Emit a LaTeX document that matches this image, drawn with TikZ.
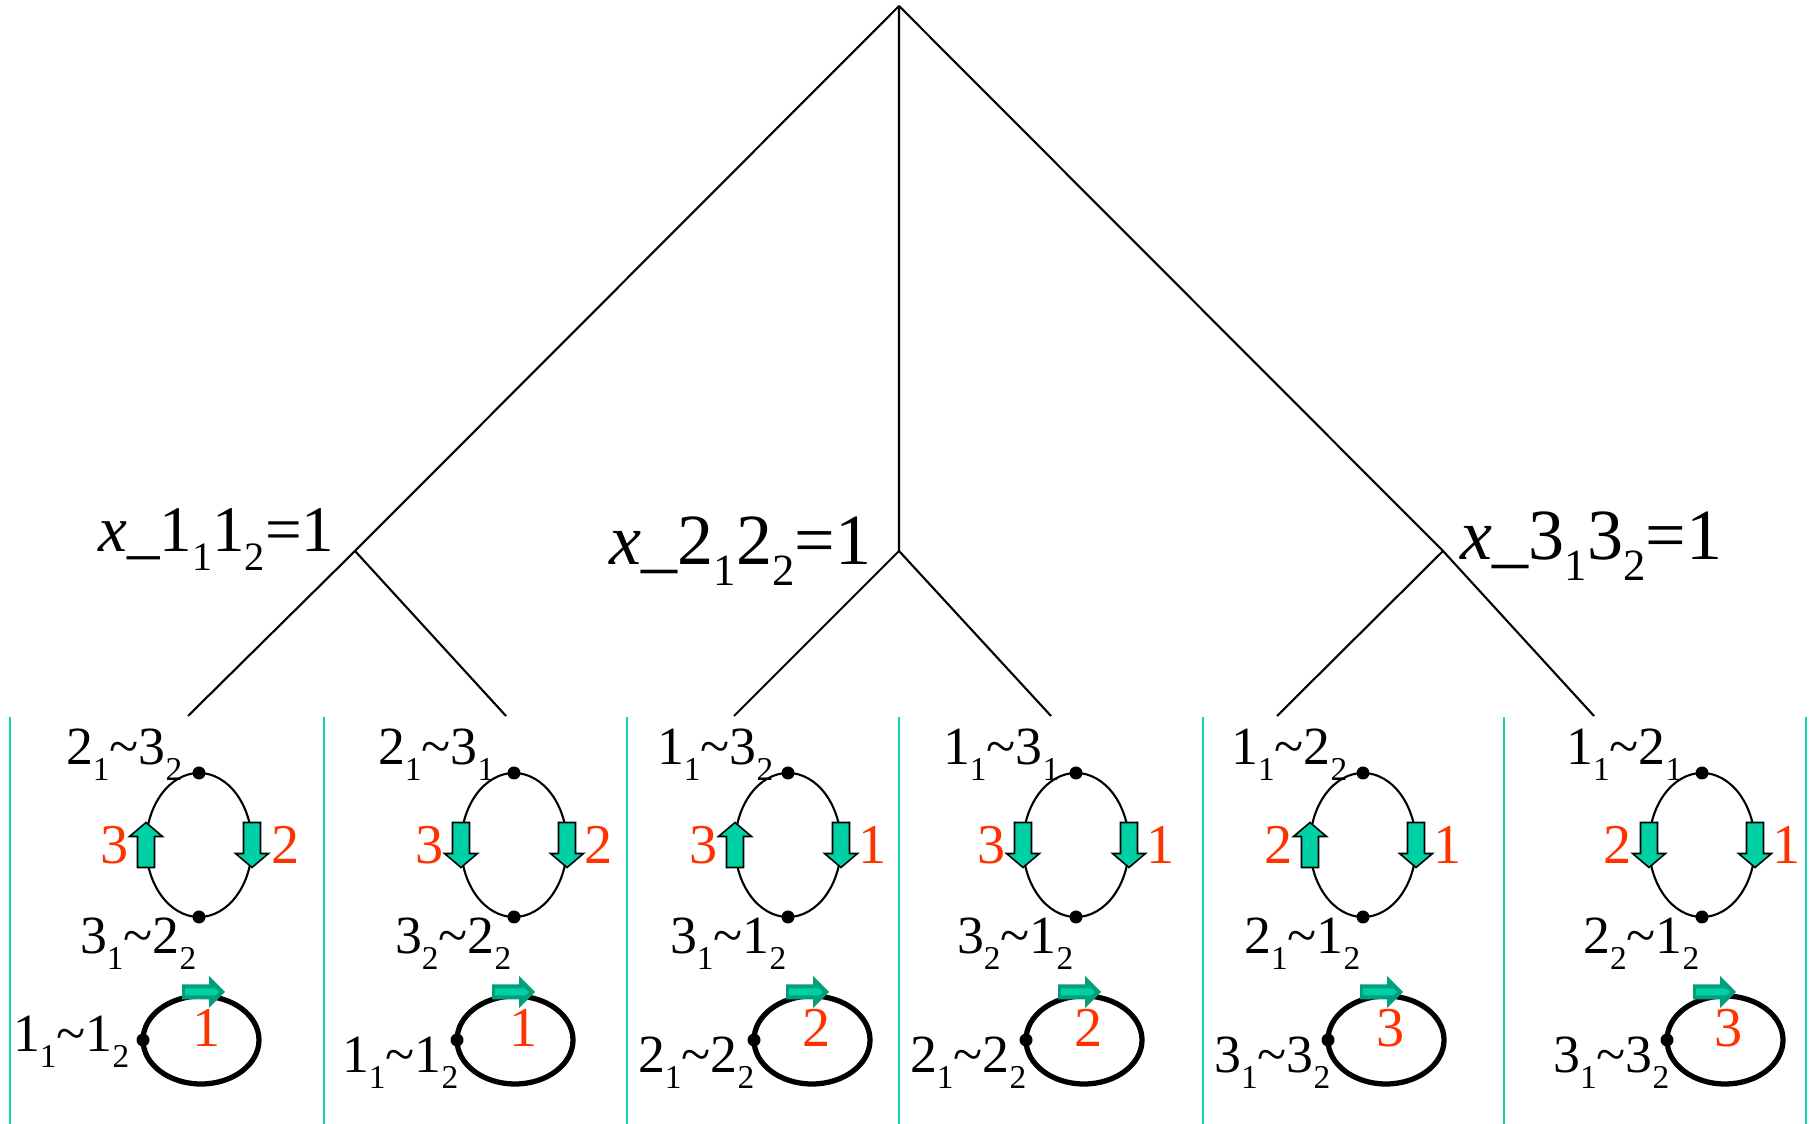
\documentclass[tikz,border=0pt]{standalone}
\usepackage{fontspec}
\setmainfont{Liberation Serif}
\usepackage{graphicx}
\definecolor{numred}{RGB}{255,51,0}
\definecolor{divteal}{RGB}{20,210,170}
\definecolor{arrfill}{RGB}{0,208,165}
\definecolor{arrdark}{RGB}{0,160,125}
\newcommand{\ix}[1]{\raisebox{-0.28em}{\scalebox{0.62}{#1}}}
\newcommand{\tl}{\textasciitilde}
\newcommand{\labfont}{\fontsize{15.3}{17}\selectfont}
\newcommand{\numfont}{\fontsize{16}{18}\selectfont}
\newcommand{\bigfont}{\fontsize{20.5}{23}\selectfont}
\tikzset{
  lab/.style={inner sep=0pt,font=\labfont},
  num/.style={inner sep=0pt,font=\numfont,text=numred},
  big/.style={inner sep=0pt,font=\bigfont},
  branch/.style={line width=0.6pt},
  divider/.style={divteal,line width=0.7pt},
  ring/.style={line width=0.6pt},
  thickring/.style={line width=1.5pt},
  arrbox/.style={draw=black,line width=0.45pt,fill=arrfill},
  downarr/.pic={\draw[arrbox] (-0.085,0.225) -- (0.085,0.225) -- (0.085,-0.085) -- (0.165,-0.085) -- (0,-0.225) -- (-0.165,-0.085) -- (-0.085,-0.085) -- cycle;},
  uparr/.pic={\draw[arrbox] (-0.085,-0.225) -- (0.085,-0.225) -- (0.085,0.085) -- (0.165,0.085) -- (0,0.225) -- (-0.165,0.085) -- (-0.085,0.085) -- cycle;},
  rarr/.pic={\fill[arrdark] (0,0.075) -- (0.27,0.075) -- (0.27,0.16) -- (0.43,0) -- (0.27,-0.16) -- (0.27,-0.075) -- (0,-0.075) -- cycle;
    \fill[arrfill] (0.03,0.035) -- (0.33,0.035) -- (0.37,0) -- (0.33,-0.035) -- (0.03,-0.035) -- cycle;}
}
\begin{document}
\begin{tikzpicture}
        \useasboundingbox (0,0) rectangle (18.14,11.24);
        % tree
        \coordinate (root) at (8.99,11.18);
        \coordinate (n1) at (3.55,5.73);
        \coordinate (n2) at (8.99,5.73);
        \coordinate (n3) at (14.43,5.73);
        \coordinate (l1) at (1.88,4.08);
        \coordinate (l2) at (5.06,4.08);
        \coordinate (l3) at (7.34,4.08);
        \coordinate (l4) at (10.51,4.08);
        \coordinate (l5) at (12.77,4.08);
        \coordinate (l6) at (15.94,4.08);
        \draw[branch] (root) -- (n1) -- (l1);
        \draw[branch] (n1) -- (l2);
        \draw[branch] (root) -- (n2) -- (l3);
        \draw[branch] (n2) -- (l4);
        \draw[branch] (root) -- (n3) -- (l6);
        \draw[branch] (n3) -- (l5);
        \node[big,font=\fontsize{18.5}{21}\selectfont,anchor=base east] (x1) at (3.35,5.72) {\textit{x}\_1\ix{1}1\ix{2}=1};
        \node[big,anchor=base east] (x2) at (8.72,5.59) {\textit{x}\_2\ix{1}2\ix{2}=1};
        \node[big,anchor=base west] (x3) at (14.60,5.64) {\textit{x}\_3\ix{1}3\ix{2}=1};

        \draw[divider] (0.10,0) -- (0.10,4.07) (3.24,0) -- (3.24,4.07) (6.27,0) -- (6.27,4.07)
                (8.99,0) -- (8.99,4.07) (12.03,0) -- (12.03,4.07) (15.04,0) -- (15.04,4.07) (18.06,0) -- (18.06,4.07);

        % panel 1
        \begin{scope}[shift={(1.99,0)}]
                \draw[ring] (0,2.79) ellipse (0.53 and 0.72);
                \fill (0,3.51) circle (0.065) (0,2.07) circle (0.065);
                \pic at (-0.53,2.79) {uparr};
                \pic at (0.53,2.79) {downarr};
                \node[lab,anchor=base east] (t1) at (-0.16,3.59) {2\ix{1}\tl3\ix{2}};
                \node[lab,anchor=base east] (b1) at (-0.02,1.70) {3\ix{1}\tl2\ix{2}};
                \node[num,anchor=east] (w1) at (-0.70,2.79) {3};
                \node[num,anchor=west] (e1) at (0.72,2.79) {2};
                \draw[thickring] (0.02,0.84) ellipse (0.58 and 0.44);
                \fill (-0.56,0.84) circle (0.065);
                \pic at (-0.17,1.32) {rarr};
                \node[lab,anchor=base east] (f1) at (-0.69,0.72) {1\ix{1}\tl1\ix{2}};
                \node[num,anchor=base] (c1) at (0.08,0.77) {1};
        \end{scope}

        % panel 2
        \begin{scope}[shift={(5.14,0)}]
                \draw[ring] (0,2.79) ellipse (0.53 and 0.72);
                \fill (0,3.51) circle (0.065) (0,2.07) circle (0.065);
                \pic at (-0.53,2.79) {downarr};
                \pic at (0.53,2.79) {downarr};
                \node[lab,anchor=base east] (t2) at (-0.19,3.59) {2\ix{1}\tl3\ix{1}};
                \node[lab,anchor=base east] (b2) at (-0.02,1.70) {3\ix{2}\tl2\ix{2}};
                \node[num,anchor=east] (w2) at (-0.70,2.79) {3};
                \node[num,anchor=west] (e2) at (0.70,2.79) {2};
                \draw[thickring] (0.01,0.84) ellipse (0.58 and 0.44);
                \fill (-0.57,0.84) circle (0.065);
                \pic at (-0.22,1.32) {rarr};
                \node[lab,anchor=base east] (f2) at (-0.55,0.51) {1\ix{1}\tl1\ix{2}};
                \node[num,anchor=base] (c2) at (0.10,0.77) {1};
        \end{scope}

        % panel 3
        \begin{scope}[shift={(7.88,0)}]
                \draw[ring] (0,2.79) ellipse (0.53 and 0.72);
                \fill (0,3.51) circle (0.065) (0,2.07) circle (0.065);
                \pic at (-0.53,2.79) {uparr};
                \pic at (0.53,2.79) {downarr};
                \node[lab,anchor=base east] (t3) at (-0.14,3.59) {1\ix{1}\tl3\ix{2}};
                \node[lab,anchor=base east] (b3) at (-0.01,1.70) {3\ix{1}\tl1\ix{2}};
                \node[num,anchor=east] (w3) at (-0.70,2.79) {3};
                \node[num,anchor=west] (e3) at (0.70,2.79) {1};
                \draw[thickring] (0.24,0.84) ellipse (0.58 and 0.44);
                \fill (-0.34,0.84) circle (0.065);
                \pic at (-0.02,1.32) {rarr};
                \node[lab,anchor=base east] (f3) at (-0.33,0.51) {2\ix{1}\tl2\ix{2}};
                \node[num,anchor=base] (c3) at (0.29,0.77) {2};
        \end{scope}

        % panel 4
        \begin{scope}[shift={(10.76,0)}]
                \draw[ring] (0,2.79) ellipse (0.53 and 0.72);
                \fill (0,3.51) circle (0.065) (0,2.07) circle (0.065);
                \pic at (-0.53,2.79) {downarr};
                \pic at (0.53,2.79) {downarr};
                \node[lab,anchor=base east] (t4) at (-0.16,3.59) {1\ix{1}\tl3\ix{1}};
                \node[lab,anchor=base east] (b4) at (-0.02,1.70) {3\ix{2}\tl1\ix{2}};
                \node[num,anchor=east] (w4) at (-0.70,2.79) {3};
                \node[num,anchor=west] (e4) at (0.70,2.79) {1};
                \draw[thickring] (0.08,0.84) ellipse (0.58 and 0.44);
                \fill (-0.50,0.84) circle (0.065);
                \pic at (-0.18,1.32) {rarr};
                \node[lab,anchor=base east] (f4) at (-0.49,0.51) {2\ix{1}\tl2\ix{2}};
                \node[num,anchor=base] (c4) at (0.13,0.77) {2};
        \end{scope}

        % panel 5
        \begin{scope}[shift={(13.63,0)}]
                \draw[ring] (0,2.79) ellipse (0.53 and 0.72);
                \fill (0,3.51) circle (0.065) (0,2.07) circle (0.065);
                \pic at (-0.53,2.79) {uparr};
                \pic at (0.53,2.79) {downarr};
                \node[lab,anchor=base east] (t5) at (-0.15,3.59) {1\ix{1}\tl2\ix{2}};
                \node[lab,anchor=base east] (b5) at (-0.02,1.70) {2\ix{1}\tl1\ix{2}};
                \node[num,anchor=east] (w5) at (-0.70,2.79) {2};
                \node[num,anchor=west] (e5) at (0.70,2.79) {1};
                \draw[thickring] (0.23,0.84) ellipse (0.58 and 0.44);
                \fill (-0.35,0.84) circle (0.065);
                \pic at (-0.03,1.32) {rarr};
                \node[lab,anchor=base east] (f5) at (-0.32,0.51) {3\ix{1}\tl3\ix{2}};
                \node[num,anchor=base] (c5) at (0.28,0.77) {3};
        \end{scope}

        % panel 6
        \begin{scope}[shift={(17.02,0)}]
                \draw[ring] (0,2.79) ellipse (0.53 and 0.72);
                \fill (0,3.51) circle (0.065) (0,2.07) circle (0.065);
                \pic at (-0.53,2.79) {downarr};
                \pic at (0.53,2.79) {downarr};
                \node[lab,anchor=base east] (t6) at (-0.19,3.59) {1\ix{1}\tl2\ix{1}};
                \node[lab,anchor=base east] (b6) at (-0.02,1.70) {2\ix{2}\tl1\ix{2}};
                \node[num,anchor=east] (w6) at (-0.70,2.79) {2};
                \node[num,anchor=west] (e6) at (0.70,2.79) {1};
                \draw[thickring] (0.23,0.84) ellipse (0.58 and 0.44);
                \fill (-0.35,0.84) circle (0.065);
                \pic at (-0.09,1.32) {rarr};
                \node[lab,anchor=base east] (f6) at (-0.32,0.51) {3\ix{1}\tl3\ix{2}};
                \node[num,anchor=base] (c6) at (0.27,0.77) {3};
        \end{scope}
\end{tikzpicture}
\end{document}
